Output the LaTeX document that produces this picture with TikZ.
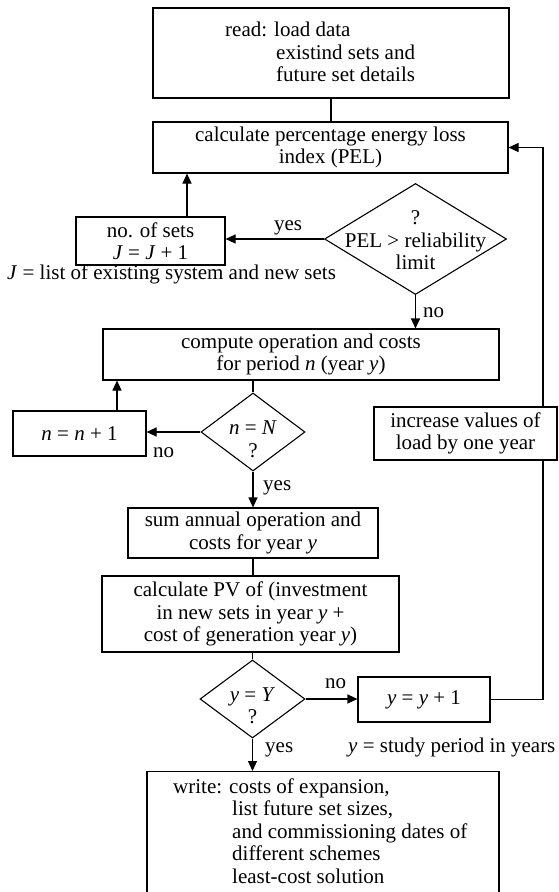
\documentclass[tikz,border=0pt]{standalone}
\usepackage{fontspec}
\setmainfont{Liberation Serif}
\usetikzlibrary{shapes.geometric,arrows.meta}
\begin{document}
\begin{tikzpicture}[x=1pt,y=-1pt,
  font=\fontsize{21}{22.5}\selectfont,
  box/.style={draw, line width=1.1pt, rectangle, inner sep=0pt, align=center},
  decision/.style={draw, line width=1.1pt, diamond, inner sep=0pt},
  note/.style={inner sep=0pt},
  link/.style={line width=1.1pt},
  flow/.style={line width=1.1pt, -{Triangle[length=10pt,width=9pt]}}]
\fill[white] (0,0) rectangle (559,892);
\useasboundingbox (0,0) rectangle (559,892);

% process boxes and decisions
\node[box, minimum width=356pt, minimum height=90pt] (read) at (331,53) {};
\node[note, anchor=north west, align=left] (readtext) at (225,22)
  {read: load data\\\hspace*{51pt}existind sets and\\\hspace*{51pt}future set details};
\node[box, minimum width=355pt, minimum height=51pt] (pel) at (330.5,147.5)
  {calculate percentage energy loss\\index (PEL)};
\node[decision, minimum width=182pt, minimum height=111pt] (test) at (415.5,239) {};
\node[note, align=center] (testtext) at (415.5,240.5) {?\\PEL > reliability\\limit};
\node[box, minimum width=149pt, minimum height=48pt] (sets) at (150.5,241)
  {no. of sets\\\textit{J} = \textit{J} + 1};
\node[note, anchor=base west] (jnote) at (7,279) {\textit{J} = list of existing system and new sets};
\node[box, minimum width=396pt, minimum height=51pt] (compute) at (301,354.5)
  {compute operation and costs\\for period \textit{n} (year \textit{y})};
\node[decision, minimum width=104pt, minimum height=78pt] (lastn) at (253,432) {};
\node[note, align=center] (lastntext) at (253,439.5) {\textit{n} = \textit{N}\\?};
\node[box, minimum width=133pt, minimum height=45pt] (nextn) at (79.5,433.5) {\textit{n} = \textit{n} + 1};
\node[box, minimum width=183pt, minimum height=53pt] (load) at (465.5,433.5)
  {increase values of\\load by one year};
\node[box, minimum width=250pt, minimum height=50pt] (sum) at (253,533)
  {sum annual operation and\\costs for year \textit{y}};
\node[box, minimum width=297pt, minimum height=76pt] (pv) at (250.5,614)
  {calculate PV of (investment\\in new sets in year \textit{y} +\\cost of generation year \textit{y})};
\node[decision, minimum width=105pt, minimum height=78pt] (lasty) at (252.5,699) {};
\node[note, align=center] (lastytext) at (252.5,706) {\textit{y} = \textit{Y}\\?};
\node[box, minimum width=132pt, minimum height=45pt] (nexty) at (424,699.5) {\textit{y} = \textit{y} + 1};
\node[note, anchor=base west] (ynote) at (348,752) {\textit{y} = study period in years};
\node[box, minimum width=352pt, minimum height=150pt, anchor=north] (write) at (323,771) {};
\node[note, anchor=north west, align=left] (writetext) at (173,778.5)
  {write: costs of expansion,\\\hspace*{59pt}list future set sizes,\\\hspace*{59pt}and commissioning dates of\\\hspace*{59pt}different schemes\\\hspace*{59pt}least-cost solution};

% return path on the right
\coordinate (loop) at (543,0);

% connectors
\draw[link] (read.south) -- (read.south |- pel.north);
\draw[flow] (test.west) -- (test.west -| sets.east);
\draw[flow] ([xshift=36.5pt]sets.north) -- ([xshift=36.5pt]sets.north |- pel.south);
\draw[flow] (test.south) -- (test.south |- compute.north);
\draw[link] (lastn.north) -- (lastn.north |- compute.south);
\draw[flow] (lastn.west) -- (lastn.west -| nextn.east);
\draw[flow] ([xshift=37.5pt]nextn.north) -- ([xshift=37.5pt]nextn.north |- compute.south);
\draw[flow] (lastn.south) -- (lastn.south |- sum.north);
\draw[link] (sum.south) -- (sum.south |- pv.north);
\draw[link] (lasty.north) -- (lasty.north |- pv.south);
\draw[flow] (lasty.east) -- (lasty.east -| nexty.west);
\draw[flow] (lasty.south) -- (lasty.south |- write.north);
\draw[link] (nexty.east) -- (nexty.east -| loop) -- (loop |- load.south);
\draw[flow] (loop |- load.north) -- (loop |- pel.east) -- (pel.east);

% branch labels
\node[note, anchor=base] (yes1) at (288,230) {yes};
\node[note, anchor=base west] (no1) at (423,317) {no};
\node[note, anchor=base west] (no2) at (153,457) {no};
\node[note, anchor=base west] (yes2) at (263,490) {yes};
\node[note, anchor=base west] (no3) at (325,688) {no};
\node[note, anchor=base west] (yes3) at (265,752) {yes};
\end{tikzpicture}
\end{document}
